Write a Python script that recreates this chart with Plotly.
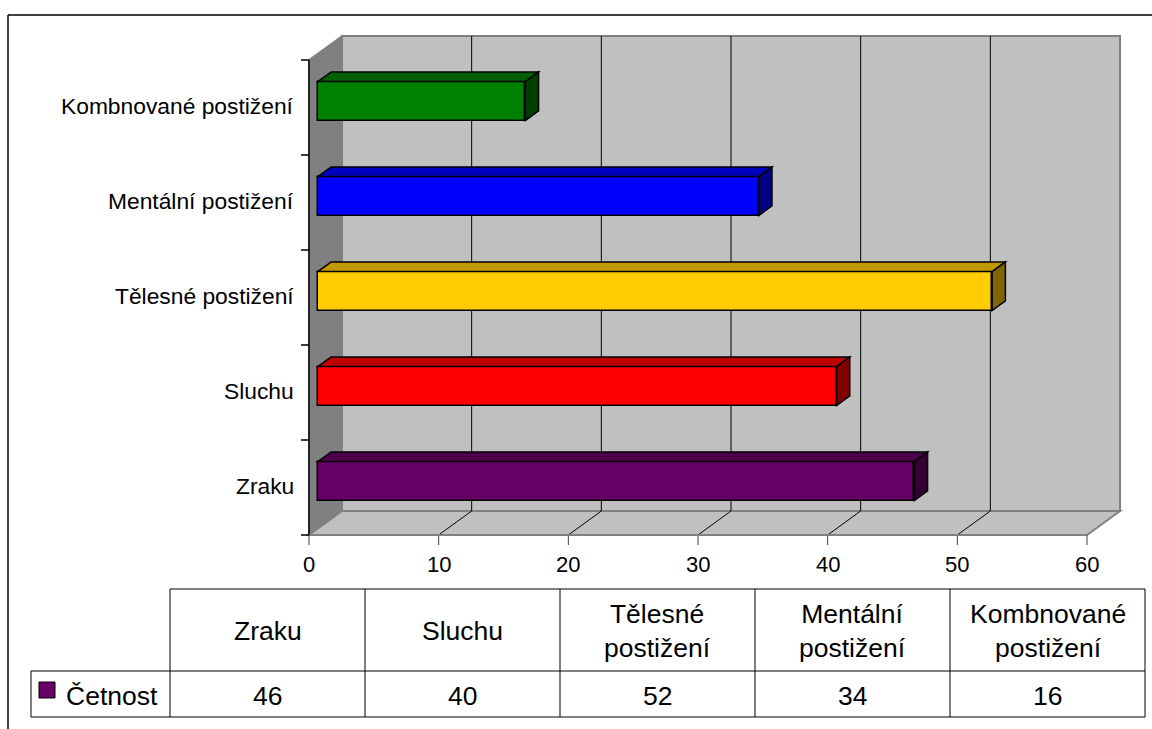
import plotly.graph_objects as go

# ---- data -------------------------------------------------------------
categories = ["Zraku", "Sluchu", "Tělesné postižení", "Mentální postižení", "Kombnované postižení"]
table_headers = ["Zraku", "Sluchu", "Tělesné<br>postižení", "Mentální<br>postižení", "Kombnované<br>postižení"]
counts = [46, 40, 52, 34, 16]
series_name = "Četnost"
x_ticks = [0, 10, 20, 30, 40, 50, 60]

# ---- styles -----------------------------------------------------------
face_colors = ["#660066", "#FF0000", "#FFCC00", "#0000FF", "#008000"]
top_colors = ["#4C004C", "#C00000", "#C09900", "#0000C0", "#006000"]
side_colors = ["#330033", "#800000", "#806600", "#000080", "#004000"]
FONT = "Liberation Sans, Arial, sans-serif"

W, H = 1152, 729
# pixel geometry of the front plane of the 3-D box
X0_PX, X60_PX = 309, 1087
UNIT_PX = (X60_PX - X0_PX) / 60.0
CAT_PX = 95.0
FLOOR_PX = 535.0
X_MIN = -X0_PX / UNIT_PX
X_MAX = (W - X0_PX) / UNIT_PX
Y_MIN = -0.5 - (H - FLOOR_PX) / CAT_PX
Y_MAX = -0.5 + FLOOR_PX / CAT_PX

# depth vector of the box (value units, category units)
DX = 33 / UNIT_PX
DY = 24 / CAT_PX
F_FRONT, F_BACK = 0.27, 0.67      # bar depth span as a fraction of the box depth
BAR_W = 0.41
VMAX = x_ticks[-1]
n = len(categories)
y_lo, y_hi = -0.5, n - 0.5


def px(x):
    return x / W


def py(y):
    return 1 - y / H


shapes = []


def poly(pts, fill, line_color, lw, layer="below"):
    d = "M " + " L ".join(f"{x},{y}" for x, y in pts) + " Z"
    shapes.append(dict(type="path", path=d, xref="x", yref="y", fillcolor=fill,
                       line=dict(color=line_color, width=lw), layer=layer))


def seg(x0, y0, x1, y1, color, lw, ref="x", layer="below"):
    yr = "y" if ref == "x" else "paper"
    shapes.append(dict(type="line", x0=x0, y0=y0, x1=x1, y1=y1, xref=ref, yref=yr,
                       line=dict(color=color, width=lw), layer=layer))


# back wall
poly([(DX, y_lo + DY), (DX, y_hi + DY), (VMAX + DX, y_hi + DY), (VMAX + DX, y_lo + DY)],
     "#C0C0C0", "#808080", 2)
# left wall
poly([(0, y_lo), (0, y_hi), (DX, y_hi + DY), (DX, y_lo + DY)], "#808080", "#808080", 1.5)
# floor
poly([(0, y_lo), (DX, y_lo + DY), (VMAX + DX, y_lo + DY), (VMAX, y_lo)], "#C0C0C0", "#808080", 2)

# gridlines on the back wall and on the floor
for t in x_ticks[1:-1]:
    seg(t + DX, y_lo + DY, t + DX, y_hi + DY, "#000000", 1)
    seg(t, y_lo, t + DX, y_lo + DY, "#000000", 1)

# value axis ticks
tick_len = 10 / CAT_PX
for t in x_ticks:
    seg(t, y_lo, t, y_lo - tick_len, "#404040", 1)
seg(0, y_lo, VMAX, y_lo, "#808080", 2)

# category axis line and ticks
seg(0, y_lo, 0, y_hi, "#000000", 1.5)
cat_tick = 8 / UNIT_PX
for k in range(n + 1):
    seg(-cat_tick, y_lo + k, 0, y_lo + k, "#000000", 1.5)

# 3-D top and side faces of the bars
base = F_FRONT * DX
ddx = (F_BACK - F_FRONT) * DX
ddy = (F_BACK - F_FRONT) * DY
for i, v in enumerate(counts):
    yc = i + F_FRONT * DY
    top = yc + BAR_W / 2
    bot = yc - BAR_W / 2
    poly([(base, top), (base + v, top), (base + v + ddx, top + ddy), (base + ddx, top + ddy)],
         top_colors[i], "#000000", 1.5, layer="above")
    poly([(base + v, bot), (base + v, top), (base + v + ddx, top + ddy), (base + v + ddx, bot + ddy)],
         side_colors[i], "#000000", 1.5, layer="above")

fig = go.Figure()
fig.add_trace(go.Bar(
    x=counts,
    y=[i + F_FRONT * DY for i in range(n)],
    base=base,
    orientation="h",
    width=BAR_W,
    marker=dict(color=face_colors, line=dict(color="#000000", width=1.5)),
    hoverinfo="skip",
    showlegend=False,
))

annotations = []
# value axis labels
for t in x_ticks:
    annotations.append(dict(x=t, y=y_lo, xref="x", yref="y", text=str(t), showarrow=False,
                            yshift=-29, yanchor="middle", xanchor="center",
                            font=dict(family=FONT, size=22, color="#000000")))
# category labels
for i, c in enumerate(categories):
    annotations.append(dict(x=0, y=i, xref="x", yref="y", text=c, showarrow=False,
                            xshift=-13, yshift=2, xanchor="right", yanchor="middle",
                            font=dict(family=FONT, size=22.8, color="#000000")))

# ---- data table -------------------------------------------------------
col_edges = [170, 365, 560, 755, 950, 1145]
row_top, row_mid, row_bot = 589, 671, 717
key_left = 31
seg(px(col_edges[0]), py(row_top), px(col_edges[-1]), py(row_top), "#000000", 1, ref="paper")
seg(px(key_left), py(row_mid), px(col_edges[-1]), py(row_mid), "#000000", 1, ref="paper")
seg(px(key_left), py(row_bot), px(col_edges[-1]), py(row_bot), "#000000", 1, ref="paper")
seg(px(key_left), py(row_mid), px(key_left), py(row_bot), "#000000", 1, ref="paper")
for e in col_edges:
    seg(px(e), py(row_top), px(e), py(row_bot), "#000000", 1, ref="paper")

for j, (hdr, v) in enumerate(zip(table_headers, counts)):
    cx = (col_edges[j] + col_edges[j + 1]) / 2
    annotations.append(dict(x=px(cx), y=py((row_top + row_mid) / 2 + 1), xref="paper", yref="paper",
                            text=hdr, showarrow=False, xanchor="center", yanchor="middle",
                            font=dict(family=FONT, size=26.5, color="#000000")))
    annotations.append(dict(x=px(cx), y=py((row_mid + row_bot) / 2 + 2), xref="paper", yref="paper",
                            text=str(v), showarrow=False, xanchor="center", yanchor="middle",
                            font=dict(family=FONT, size=26.5, color="#000000")))

# legend key and series name
shapes.append(dict(type="rect", xref="paper", yref="paper",
                   x0=px(39), x1=px(55), y0=py(698), y1=py(682),
                   fillcolor=face_colors[0], line=dict(color="#000000", width=1)))
annotations.append(dict(x=px(64), y=py((row_mid + row_bot) / 2 + 2), xref="paper", yref="paper",
                        text=series_name, showarrow=False, xanchor="left", yanchor="middle",
                        font=dict(family=FONT, size=26.5, color="#000000")))

# outer chart frame
seg(px(8), py(15), px(W + 5), py(15), "#000000", 1.5, ref="paper")
seg(px(8), py(15), px(8), py(H + 5), "#000000", 1.5, ref="paper")

fig.update_layout(
    width=W, height=H, autosize=False,
    margin=dict(l=0, r=0, t=0, b=0, pad=0),
    paper_bgcolor="#FFFFFF", plot_bgcolor="#FFFFFF",
    xaxis=dict(range=[X_MIN, X_MAX], visible=False, fixedrange=True),
    yaxis=dict(range=[Y_MIN, Y_MAX], visible=False, fixedrange=True),
    shapes=shapes, annotations=annotations,
    hovermode=False, showlegend=False,
    bargap=0,
)

fig.write_html("out.html")
